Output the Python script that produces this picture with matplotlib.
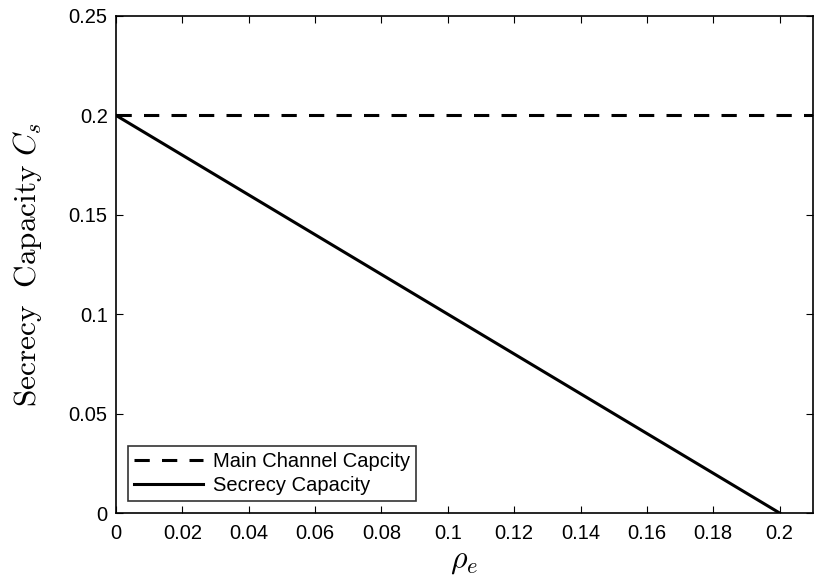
import matplotlib
matplotlib.use("Agg")
import matplotlib.pyplot as plt
import numpy as np

plt.rcParams['font.family'] = ['Liberation Sans', 'DejaVu Sans']
plt.rcParams['mathtext.fontset'] = 'cm'

rho_e = [0.0, 0.2]
main_capacity = [0.2, 0.2]
secrecy_capacity = [0.2, 0.0]
dash_x = [0.0, 0.21]
xticks = [0, 0.02, 0.04, 0.06, 0.08, 0.1, 0.12, 0.14, 0.16, 0.18, 0.2]
xticklabels = ['0', '0.02', '0.04', '0.06', '0.08', '0.1', '0.12', '0.14', '0.16', '0.18', '0.2']
yticks = [0, 0.05, 0.1, 0.15, 0.2, 0.25]
yticklabels = ['0', '0.05', '0.1', '0.15', '0.2', '0.25']

fig = plt.figure(figsize=(8.15, 5.8), dpi=100)
ax = fig.add_axes([0.1423, 0.1155, 0.855, 0.857])
ax.plot(dash_x, main_capacity, 'k--', lw=2.2, dashes=(5, 4), label='Main Channel Capcity')
ax.plot(rho_e, secrecy_capacity, 'k-', lw=2.2, label='Secrecy Capacity')
ax.set_xlim(0, 0.21)
ax.set_ylim(0, 0.25)
ax.set_xticks(xticks)
ax.set_xticklabels(xticklabels)
ax.set_yticks(yticks)
ax.set_yticklabels(yticklabels)
ax.tick_params(direction='in', top=True, right=True, labelsize=14.5, length=5, width=0.8)
ax.tick_params(axis='x', pad=8)
ax.tick_params(axis='y', pad=6)
for s in ax.spines.values():
    s.set_linewidth(1.2)
ax.set_xlabel(r'$\rho_e$', fontsize=23, labelpad=2)
ax.set_ylabel(r'$\mathrm{Secrecy\ \ Capacity}\ C_s$', fontsize=22.5, labelpad=18)
leg = ax.legend(loc='lower left', fontsize=14.5, frameon=True, fancybox=False,
                edgecolor='black', borderpad=0.3, handlelength=3.4, handletextpad=0.5,
                labelspacing=0.25, borderaxespad=0.6)
leg.get_frame().set_linewidth(1.2)
fig.savefig('out.png', dpi=100)
